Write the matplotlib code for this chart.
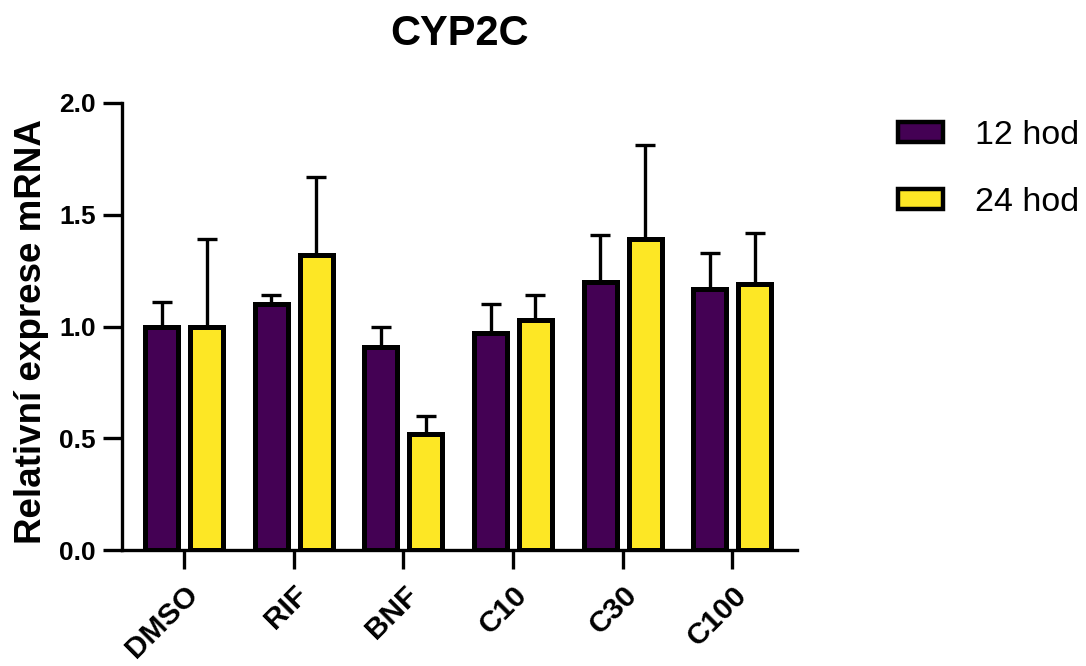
import numpy as np
from matplotlib import pyplot as plt

# data
categories = ["DMSO", "RIF", "BNF", "C10", "C30", "C100"]
mean_12 = [1.00, 1.10, 0.91, 0.97, 1.20, 1.17]
err_12 = [0.11, 0.04, 0.09, 0.13, 0.21, 0.16]
mean_24 = [1.00, 1.32, 0.52, 1.03, 1.39, 1.19]
err_24 = [0.39, 0.35, 0.08, 0.11, 0.42, 0.23]
series_names = ["12 hod", "24 hod"]
yticks = [0.0, 0.5, 1.0, 1.5, 2.0]

plt.rcParams['font.family'] = ['Liberation Sans', 'DejaVu Sans']

fig = plt.figure(figsize=(10.86, 6.66), dpi=100)
ax = fig.add_axes([122 / 1086, 1 - 550 / 666, (797 - 122) / 1086, (550 - 103) / 666])

x = np.arange(len(categories))
w = 0.30
off = 0.205
colors = ["#440154", "#fde725"]

for i, (m, e) in enumerate([(mean_12, err_12), (mean_24, err_24)]):
    pos = x - off if i == 0 else x + off
    ax.bar(pos, m, width=w, color=colors[i], edgecolor="black", linewidth=3.6,
           label=series_names[i], zorder=3)
    ax.errorbar(pos, m, yerr=[np.zeros(len(m)), e], fmt="none", ecolor="black",
                elinewidth=2.4, capsize=7, capthick=2.4, zorder=2)

ax.set_xlim(-0.566, 5.59)
ax.set_ylim(0, 2.0)
ax.set_yticks(yticks)
ax.set_yticklabels([f"{t:.1f}" for t in yticks], fontsize=19, fontweight="bold")
ax.set_xticks(x)
ax.set_xticklabels(categories, fontsize=21.5, fontweight="bold", rotation=45,
                   ha="right", va="top", rotation_mode="anchor")

for s in ["top", "right"]:
    ax.spines[s].set_visible(False)
for s in ["left", "bottom"]:
    ax.spines[s].set_linewidth(2.4)
ax.tick_params(axis="both", width=2.4, length=14)
ax.tick_params(axis="y", pad=5)
ax.tick_params(axis="x", pad=8)

fig.text(459 / 1086, 1 - 34 / 666, "CYP2C", fontsize=30, fontweight="bold",
         ha="center", va="center")
fig.text(32 / 1086, 1 - 332 / 666, "Relativní exprese mRNA", fontsize=26.5,
         fontweight="bold", rotation=90, ha="center", va="center")

leg = ax.legend(loc="upper left", bbox_to_anchor=(898 / 1086, 1 - 120 / 666),
                bbox_transform=fig.transFigure, frameon=False, fontsize=24.5,
                handlelength=1.32, handleheight=0.55, handletextpad=0.94,
                labelspacing=1.06, borderpad=0, borderaxespad=0)
for p in leg.get_patches():
    p.set_linewidth(3.2)

fig.savefig("out.png", dpi=100)
